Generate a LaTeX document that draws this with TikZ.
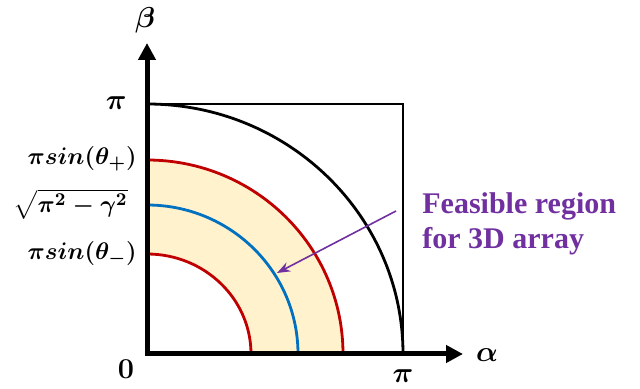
\documentclass[tikz,border=0pt]{standalone}
\usepackage{amsmath}
\usepackage{fontspec}
\newfontfamily\notefont{Liberation Serif}
\usetikzlibrary{arrows.meta, positioning}

\definecolor{bandfill}{HTML}{FFF2CC}
\definecolor{arcred}{HTML}{C00000}
\definecolor{arcblue}{HTML}{0070C0}
\definecolor{notepurple}{HTML}{7030A0}

\begin{document}
\begin{tikzpicture}[x=0.5pt, y=0.5pt, >=Stealth,
  axislbl/.style={font=\fontsize{14}{16}\selectfont\boldmath, inner sep=0pt},
  ticklbl/.style={font=\fontsize{12.5}{15}\selectfont\boldmath, inner sep=0pt, anchor=east},
  arcline/.style={line width=1.4pt}]
  \useasboundingbox (-147,-35) rectangle (493,354);
  % Feasible band between the two red arcs
  \fill[bandfill] (0,194) arc[start angle=90, end angle=0, x radius=196, y radius=194]
    -- (104,0) arc[start angle=0, end angle=90, x radius=104, y radius=100] -- cycle;
  % Square [0,pi]x[0,pi]
  \draw[line width=1pt] (0,250) -- (256,250) -- (256,0);
  % Arcs
  \draw[arcline] (0,250) arc[start angle=90, end angle=0, x radius=256, y radius=250];
  \draw[arcline, arcred] (0,194) arc[start angle=90, end angle=0, x radius=196, y radius=194];
  \draw[arcline, arcblue] (0,149) arc[start angle=90, end angle=0, x radius=151, y radius=149];
  \draw[arcline, arcred] (0,100) arc[start angle=90, end angle=0, x radius=104, y radius=100];
  % Axes
  \coordinate (O) at (0,0);
  \coordinate (ytop) at (0,311);
  \coordinate (xend) at (316,0);
  \draw[line width=2.5pt, {Triangle[length=8.5pt,width=8.5pt]}-{Triangle[length=8.5pt,width=8.5pt]}]
    (ytop) -- (O) -- (xend);
  \node[axislbl] (beta) at (-2,334) {$\beta$};
  \node[axislbl] (alpha) at (340,-1) {$\alpha$};
  \node[axislbl] (zero) at (-21,-15) {$0$};
  \node[axislbl] (pix) at (256,-22) {$\pi$};
  % Tick labels on the beta axis
  \node[axislbl, anchor=east] (piy) at (-20,251) {$\pi$};
  \node[ticklbl] (thplus) at (-10,195) {$\pi sin(\theta_+)$};
  \node[ticklbl] (root) at (-19,150) {$\sqrt{\pi^2-\gamma^2}$};
  \node[ticklbl] (thminus) at (-10,100) {$\pi sin(\theta_-)$};
  % Annotation
  \node[anchor=west, align=left, inner sep=0pt, text=notepurple,
    font=\notefont\bfseries\fontsize{15}{17.5}\selectfont] (note) at (275,130)
    {Feasible region\\for 3D array};
  \coordinate (tail) at (249,143);
  \coordinate (tip) at (130,81);
  \draw[->, notepurple, line width=0.8pt] (tail) -- (tip);
\end{tikzpicture}
\end{document}
